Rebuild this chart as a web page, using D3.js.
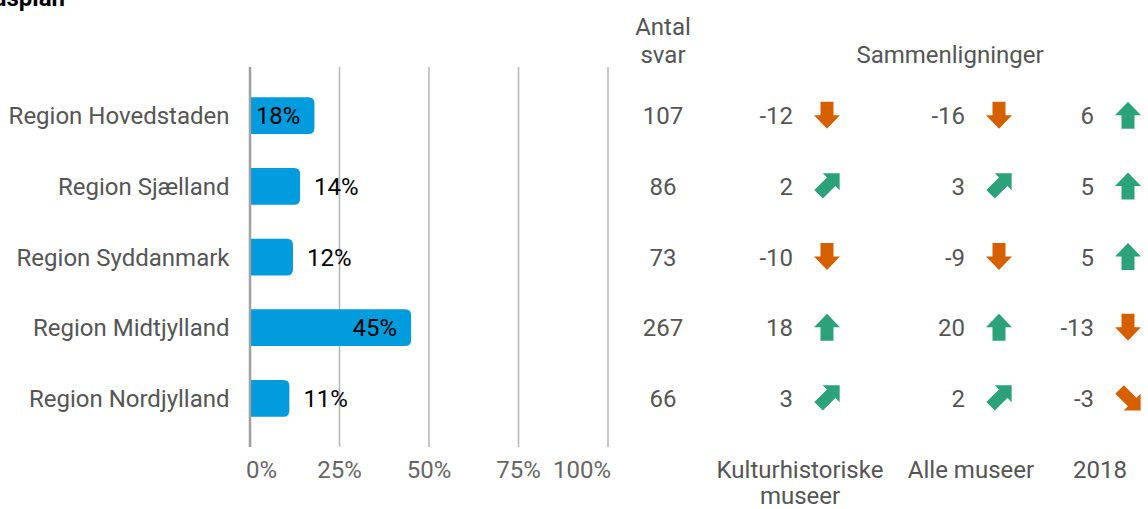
<!DOCTYPE html>
<html lang="da">
<head>
<meta charset="utf-8">
<title>Regioner</title>
<script src="https://cdn.jsdelivr.net/npm/d3@7"></script>
<style>
  body { margin: 0; background: #fff; }
  text { font-family: Roboto, "Noto Sans", sans-serif; }
</style>
</head>
<body>
<script>
// data
var regions = ["Region Hovedstaden", "Region Sjælland", "Region Syddanmark", "Region Midtjylland", "Region Nordjylland"];
var shares = [18, 14, 12, 45, 11];           // % of svar
var antalSvar = [107, 86, 73, 267, 66];
var compKultur = [-12, 2, -10, 18, 3];       // vs. kulturhistoriske museer
var compAlle = [-16, 3, -9, 20, 2];          // vs. alle museer
var comp2018 = [6, 5, 5, -13, -3];           // vs. 2018
var compNames = ["Kulturhistoriske museer", "Alle museer", "2018"];
var xTicks = [0, 25, 50, 75, 100];

var w = 1148, h = 509;
var fs = 24;
var grey = "#555";

var svg = d3.select("body").append("svg")
  .attr("width", w).attr("height", h);

// clipped title at the very top
svg.append("text")
  .attr("x", 65).attr("y", 6)
  .attr("text-anchor", "end")
  .attr("font-weight", "bold").attr("font-size", 24)
  .attr("fill", "#000")
  .text("Arbejdsplan");

var x = d3.scaleLinear().domain([0, 100]).range([250, 608]);
var y = d3.scaleBand().domain(regions).range([80.4, 433.7])
  .paddingInner(0.48).paddingOuter(0.24);

// gridlines
svg.append("g").selectAll("line")
  .data(xTicks.slice(1))
  .enter().append("line")
  .attr("x1", function(d) { return x(d); })
  .attr("x2", function(d) { return x(d); })
  .attr("y1", 67).attr("y2", 447)
  .attr("stroke", "#b4b4b4").attr("stroke-width", 1.5);

// x tick labels (first/last nudged inward like the original)
svg.append("g").selectAll("text")
  .data(xTicks)
  .enter().append("text")
  .attr("x", function(d, i) {
    if (i === 0) return x(d) - 4;
    if (i === xTicks.length - 1) return x(d) + 3;
    return x(d);
  })
  .attr("y", 478)
  .attr("text-anchor", function(d, i) {
    return i === 0 ? "start" : (i === xTicks.length - 1 ? "end" : "middle");
  })
  .attr("font-size", fs).attr("fill", "#666")
  .text(function(d) { return d + "%"; });

// bars: square left, rounded right
function barPath(x0, x1, y0, bh, r) {
  r = Math.min(r, (x1 - x0) / 2);
  return "M" + x0 + "," + y0 +
    "H" + (x1 - r) +
    "Q" + x1 + "," + y0 + " " + x1 + "," + (y0 + r) +
    "V" + (y0 + bh - r) +
    "Q" + x1 + "," + (y0 + bh) + " " + (x1 - r) + "," + (y0 + bh) +
    "H" + x0 + "Z";
}

svg.append("g").selectAll("path")
  .data(regions)
  .enter().append("path")
  .attr("d", function(d, i) { return barPath(x(0), x(shares[i]), y(d), y.bandwidth(), 6); })
  .attr("fill", "#019cdd");

// axis line
svg.append("line")
  .attr("x1", x(0)).attr("x2", x(0))
  .attr("y1", 67).attr("y2", 447)
  .attr("stroke", "#a0a0a0").attr("stroke-width", 2.5);

// value labels: inside if they fit, otherwise after the bar
var vl = svg.append("g").selectAll("text")
  .data(regions)
  .enter().append("text")
  .attr("y", function(d) { return y(d) + y.bandwidth() / 2 + 8.5; })
  .attr("font-size", fs).attr("fill", "#000")
  .text(function(d, i) { return shares[i] + "%"; });

vl.each(function(d, i) {
  var t = d3.select(this);
  var tw = this.getComputedTextLength();
  var end = x(shares[i]);
  if (end - 14 - tw >= x(0) + 4) {
    t.attr("x", end - 14).attr("text-anchor", "end");
  } else {
    t.attr("x", end + 14).attr("text-anchor", "start");
  }
});

// region labels
svg.append("g").selectAll("text")
  .data(regions)
  .enter().append("text")
  .attr("x", 229.5)
  .attr("y", function(d) { return y(d) + y.bandwidth() / 2 + 8.5; })
  .attr("text-anchor", "end")
  .attr("font-size", fs).attr("fill", grey)
  .text(function(d) { return d; });

// Antal svar column
var svarX = 663;
svg.append("text")
  .attr("x", svarX).attr("y", 35)
  .attr("text-anchor", "middle").attr("font-size", fs).attr("fill", grey)
  .selectAll("tspan").data(["Antal", "svar"]).enter().append("tspan")
  .attr("x", svarX).attr("dy", function(d, i) { return i ? 28 : 0; })
  .text(function(d) { return d; });

svg.append("g").selectAll("text")
  .data(regions)
  .enter().append("text")
  .attr("x", svarX)
  .attr("y", function(d) { return y(d) + y.bandwidth() / 2 + 8.5; })
  .attr("text-anchor", "middle").attr("font-size", fs).attr("fill", grey)
  .text(function(d, i) { return antalSvar[i]; });

// comparisons
svg.append("text")
  .attr("x", 950).attr("y", 63)
  .attr("text-anchor", "middle").attr("font-size", fs).attr("fill", grey)
  .text("Sammenligninger");

var compCols = [
  { name: compNames[0], vals: compKultur, numX: 793, arrX: 827, labX: 800, lines: ["Kulturhistoriske", "museer"] },
  { name: compNames[1], vals: compAlle, numX: 965, arrX: 999, labX: 971, lines: ["Alle museer"] },
  { name: compNames[2], vals: comp2018, numX: 1094, arrX: 1128, labX: 1100, lines: ["2018"] }
];

var upColor = "#2ba279", downColor = "#d65f00";

// straight arrow pointing up, centred on 0,0
var straightArrow = "M0,-13.5 L13,0 L6.5,0 L6.5,13.5 L-6.5,13.5 L-6.5,0 L-13,0 Z";
// arrow used for the diagonal ones (rotated +-45)
var diagArrow = "M0,-17.9 L12,-5.9 L6,-5.9 L6,11.9 L-6,11.9 L-6,-5.9 L-12,-5.9 Z";

function arrowFor(v) {
  if (v >= 5) return { d: straightArrow, rot: 0, c: upColor };
  if (v > 0) return { d: diagArrow, rot: 45, c: upColor };
  if (v <= -5) return { d: straightArrow, rot: 180, c: downColor };
  return { d: diagArrow, rot: 135, c: downColor };
}

compCols.forEach(function(col) {
  var g = svg.append("g");
  g.selectAll("text.num")
    .data(regions)
    .enter().append("text")
    .attr("class", "num")
    .attr("x", col.numX)
    .attr("y", function(d) { return y(d) + y.bandwidth() / 2 + 8.5; })
    .attr("text-anchor", "end").attr("font-size", fs).attr("fill", grey)
    .text(function(d, i) { return col.vals[i]; });

  g.selectAll("path")
    .data(regions)
    .enter().append("path")
    .attr("d", function(d, i) { return arrowFor(col.vals[i]).d; })
    .attr("fill", function(d, i) { return arrowFor(col.vals[i]).c; })
    .attr("transform", function(d, i) {
      return "translate(" + col.arrX + "," + (y(d) + y.bandwidth() / 2 - 0.5) + ") rotate(" + arrowFor(col.vals[i]).rot + ")";
    });

  g.append("text")
    .attr("x", col.labX).attr("y", 478)
    .attr("text-anchor", "middle").attr("font-size", fs).attr("fill", grey)
    .selectAll("tspan").data(col.lines).enter().append("tspan")
    .attr("x", col.labX).attr("dy", function(d, i) { return i ? 26 : 0; })
    .text(function(d) { return d; });
});
</script>
</body>
</html>
